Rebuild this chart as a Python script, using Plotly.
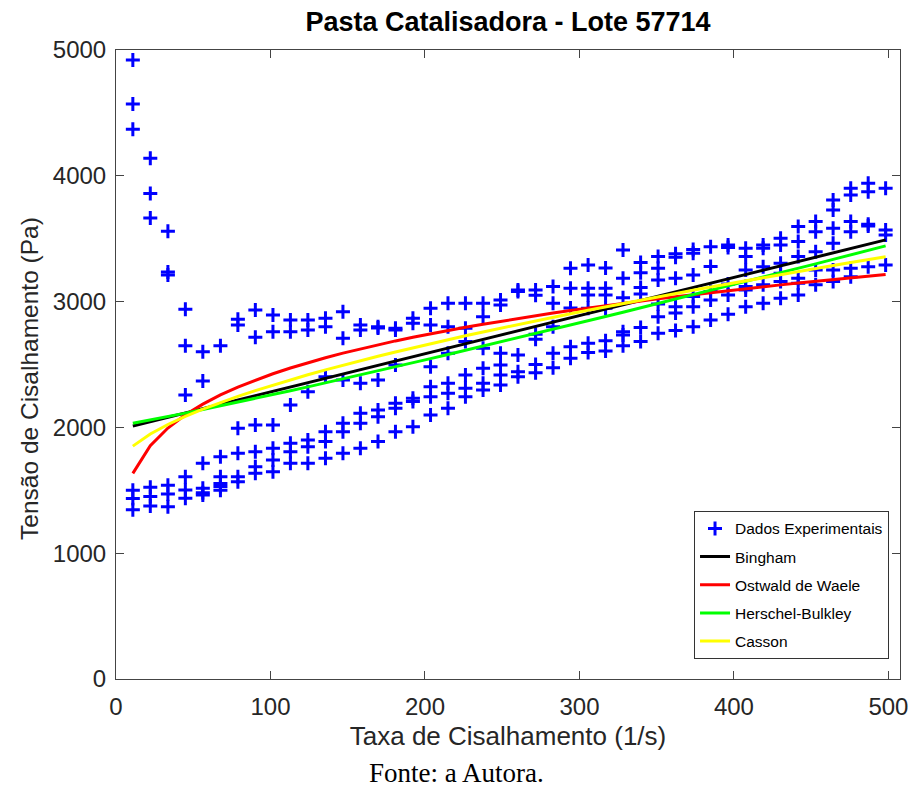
import plotly.graph_objects as go

# Shear-rate steps (1/s)
taxa = [10.9, 22.2, 33.6, 44.9, 56.2, 67.6, 78.9, 90.2, 101.6, 112.9, 124.2,
        135.6, 146.9, 158.2, 169.6, 180.9, 192.2, 203.6, 214.9, 226.2, 237.6,
        248.9, 260.2, 271.6, 282.9, 294.2, 305.6, 316.9, 328.2, 339.6, 350.9,
        362.2, 373.6, 384.9, 396.2, 407.6, 418.9, 430.2, 441.6, 452.9, 464.2,
        475.6, 486.9, 498.2]

# Measured shear stress (Pa) at each shear-rate step, all runs
tensao = [
    [4920, 4570, 4370, 1500, 1435, 1345],
    [4140, 3860, 3665, 1525, 1450, 1375],
    [3560, 3236, 3212, 1540, 1470, 1370],
    [2940, 2650, 2258, 1608, 1503, 1437],
    [2602, 2369, 1715, 1516, 1480, 1463],
    [2650, 1767, 1608, 1555, 1530, 1500],
    [2860, 2814, 1993, 1794, 1608, 1568],
    [2934, 2717, 2019, 1807, 1688, 1635],
    [2894, 2761, 2019, 1834, 1741, 1648],
    [2854, 2761, 2178, 1874, 1807, 1715],
    [2854, 2775, 2284, 1900, 1847, 1715],
    [2868, 2801, 2403, 1966, 1887, 1754],
    [2920, 2708, 2377, 2033, 1966, 1794],
    [2814, 2775, 2351, 2112, 2033, 1834],
    [2801, 2790, 2377, 2139, 2085, 1887],
    [2788, 2775, 2496, 2192, 2152, 1966],
    [2868, 2828, 2232, 2205, 2006],
    [2947, 2814, 2483, 2324, 2244, 2099],
    [2987, 2801, 2589, 2351, 2271, 2152],
    [2987, 2788, 2682, 2417, 2311, 2244],
    [2987, 2880, 2629, 2470, 2351, 2298],
    [3013, 2973, 2589, 2496, 2417, 2337],
    [3093, 3080, 2576, 2443, 2403],
    [3093, 3050, 2740, 2700, 2500, 2435],
    [3120, 2987, 2801, 2589, 2475],
    [3265, 3106, 2950, 2642, 2550],
    [3291, 3106, 3053, 2947, 2668, 2595],
    [3268, 3106, 3053, 2947, 2688, 2608],
    [3410, 3185, 3030, 2761, 2735, 2650],
    [3310, 3230, 3113, 3060, 2795, 2682],
    [3358, 3265, 3172, 2980, 2880, 2748],
    [3380, 3352, 3185, 2960, 2910, 2770],
    [3415, 3384, 3212, 3040, 2960, 2801],
    [3437, 3280, 3080, 3013, 2854],
    [3450, 3430, 3140, 3053, 2900],
    [3424, 3358, 3252, 3120, 3093, 2960],
    [3450, 3424, 3278, 3133, 2987],
    [3503, 3450, 3305, 3225, 3159, 3027],
    [3596, 3477, 3358, 3185, 3146, 3053],
    [3636, 3556, 3397, 3252, 3133],
    [3808, 3729, 3583, 3463, 3252, 3159],
    [3901, 3848, 3636, 3556, 3265, 3198],
    [3941, 3874, 3615, 3600, 3278],
    [3901, 3570, 3530, 3291],
]

# Fitted rheological model parameters
bingham_tau0, bingham_mu = 1978.0, 3.036
ostwald_k, ostwald_n = 1071.0, 0.177
hb_tau0, hb_k, hb_n = 2012.0, 1.543, 1.10
casson_tau0, casson_eta = 1635.0, 0.615

x_pts, y_pts = [], []
for g, col in zip(taxa, tensao):
    for t in col:
        x_pts.append(g)
        y_pts.append(t)

bingham = [bingham_tau0 + bingham_mu * g for g in taxa]
ostwald = [ostwald_k * g ** ostwald_n for g in taxa]
herschel = [hb_tau0 + hb_k * g ** hb_n for g in taxa]
casson = [(casson_tau0 ** 0.5 + (casson_eta * g) ** 0.5) ** 2 for g in taxa]

fig = go.Figure()
fig.add_trace(go.Scatter(
    x=x_pts, y=y_pts, mode="markers", name="Dados Experimentais",
    legendgroup="d",
    marker=dict(symbol="cross-thin", size=10, color="#0000ff",
                line=dict(width=3, color="#0000ff")),
))
for name, vals, color, grp in [
    ("Bingham", bingham, "#000000", "b"),
    ("Ostwald de Waele", ostwald, "#ff0000", "o"),
    ("Herschel-Bulkley", herschel, "#00ff00", "h"),
    ("Casson", casson, "#ffff00", "c"),
]:
    fig.add_trace(go.Scatter(x=taxa, y=vals, mode="lines", name=name,
                             legendgroup=grp,
                             line=dict(color=color, width=3)))

axis_common = dict(
    showline=True, linecolor="#444444", linewidth=1, mirror="ticks",
    ticks="inside", ticklen=8, tickcolor="#444444", tickwidth=1,
    showgrid=False, zeroline=False,
    tickfont=dict(family="Liberation Sans", size=24, color="#262626"),
)

fig.update_xaxes(range=[0, 507.5], tickvals=[0, 100, 200, 300, 400, 500],
                 ticklabelstandoff=6,
                 title=dict(text="Taxa de Cisalhamento (1/s)", standoff=8,
                            font=dict(family="Liberation Sans", size=26,
                                      color="#262626")),
                 **axis_common)
fig.update_yaxes(range=[0, 5000], tickvals=[0, 1000, 2000, 3000, 4000, 5000],
                 ticklabelstandoff=4, **axis_common)

fig.update_layout(
    width=919, height=789,
    margin=dict(l=116, r=11, t=50, b=110),
    plot_bgcolor="white", paper_bgcolor="white",
    title=dict(text="<b>Pasta Catalisadora - Lote 57714</b>",
               x=0.5, xref="paper", y=1 - 22 / 789, yanchor="middle",
               font=dict(family="Liberation Sans", size=27, color="#000000")),
    legend=dict(x=0.986, y=0.032, xanchor="right", yanchor="bottom",
                bgcolor="white", bordercolor="#333333", borderwidth=1,
                font=dict(family="Liberation Sans", size=15.5, color="#000000"),
                tracegroupgap=5, traceorder="grouped"),
    showlegend=True,
    annotations=[
        dict(text="Tensão de Cisalhamento (Pa)", xref="paper", yref="paper",
             x=(28 - 116) / 792, y=(679 - 378) / 629, textangle=-90,
             xanchor="center", yanchor="middle", showarrow=False,
             font=dict(family="Liberation Sans", size=24.5, color="#262626")),
        dict(text="Fonte: a Autora.", xref="paper", yref="paper",
             x=(459.5 - 116) / 792, y=(679 - 773) / 629,
             xanchor="center", yanchor="middle", showarrow=False,
             font=dict(family="Liberation Serif", size=27, color="#000000")),
    ],
)

fig.write_html("out.html")
